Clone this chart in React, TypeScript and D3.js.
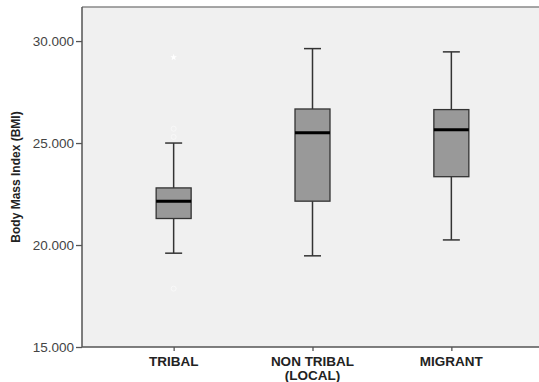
import * as d3 from 'd3';
import { useEffect, useRef } from 'react';

// groups and box stats
const groups = ['TRIBAL', 'NON TRIBAL|(LOCAL)', 'MIGRANT'];
const whiskerLow = [19.6, 19.47, 20.25];
const q1 = [21.3, 22.15, 23.35];
const median = [22.14, 25.5, 25.65];
const q3 = [22.8, 26.67, 26.64];
const whiskerHigh = [25.0, 29.63, 29.47];
// faint outliers (group index, value)
const circleOutliers = [
  [0, 25.7],
  [0, 25.3],
  [0, 17.86],
];
const starOutliers = [[0, 29.2]];
const yTicks = [15, 20, 25, 30];

const width = 539;
const height = 382;
const left = 82;
const top = 7;
const bottom = 347;
const right = 543;

const App = () => {
  const gy = useRef<SVGGElement>(null);
  const gx = useRef<SVGGElement>(null);

  const yScale = d3.scaleLinear().domain([15, 31.67]).range([bottom, top]);
  const xScale = d3
    .scalePoint<string>()
    .domain(groups)
    .range([left, right])
    .padding(0.66);

  useEffect(() => {
    const ya = d3
      .select(gy.current)
      .call(
        d3
          .axisLeft(yScale)
          .tickValues(yTicks)
          .tickFormat(d3.format('.3f'))
          .tickSize(6)
          .tickPadding(2)
      );
    ya.select('.domain').remove();
    ya.selectAll('line').attr('stroke', '#555').attr('stroke-width', 1.3);
    ya.selectAll('text')
      .attr('fill', '#444')
      .style('font-family', 'Liberation Sans, Arial, sans-serif')
      .style('font-size', '13.5px');

    const xa = d3
      .select(gx.current)
      .call(d3.axisBottom(xScale).tickSize(4).tickFormat(() => ''));
    xa.select('.domain').remove();
    xa.selectAll('line').attr('stroke', '#555').attr('stroke-width', 1.3);
  }, [yScale, xScale]);

  const boxW = 35;
  const capW = 17;

  return (
    <svg
      width={width}
      height={height}
      style={{ position: 'absolute', left: 0, top: 0, background: '#fff' }}
    >
      <rect x={left} y={top} width={right - left} height={bottom - top} fill='#f0f0f0' />
      <line x1={left} x2={right} y1={top} y2={top} stroke='#888' strokeWidth={1.3} />

      {groups.map((g, i) => {
        const cx = xScale(g)!;
        return (
          <g key={g}>
            <line x1={cx} x2={cx} y1={yScale(whiskerHigh[i])} y2={yScale(q3[i])} stroke='#333' strokeWidth={1.5} />
            <line x1={cx} x2={cx} y1={yScale(q1[i])} y2={yScale(whiskerLow[i])} stroke='#333' strokeWidth={1.5} />
            <line x1={cx - capW / 2} x2={cx + capW / 2} y1={yScale(whiskerHigh[i])} y2={yScale(whiskerHigh[i])} stroke='#333' strokeWidth={1.5} />
            <line x1={cx - capW / 2} x2={cx + capW / 2} y1={yScale(whiskerLow[i])} y2={yScale(whiskerLow[i])} stroke='#333' strokeWidth={1.5} />
            <rect
              x={cx - boxW / 2}
              y={yScale(q3[i])}
              width={boxW}
              height={yScale(q1[i]) - yScale(q3[i])}
              fill='#999'
              stroke='#333'
              strokeWidth={1.3}
            />
            <line x1={cx - boxW / 2} x2={cx + boxW / 2} y1={yScale(median[i])} y2={yScale(median[i])} stroke='#000' strokeWidth={3} />
          </g>
        );
      })}

      {circleOutliers.map(([gi, v], k) => (
        <circle key={k} cx={xScale(groups[gi])!} cy={yScale(v)} r={2.5} fill='none' stroke='#fff' strokeWidth={0.8} opacity={0.6} />
      ))}
      {starOutliers.map(([gi, v], k) => (
        <path
          key={k}
          d={d3.symbol(d3.symbolStar, 14)()!}
          transform={`translate(${xScale(groups[gi])},${yScale(v)})`}
          fill='#fff'
        />
      ))}

      <g ref={gy} transform={`translate(${left},0)`} />
      <g ref={gx} transform={`translate(0,${bottom})`} />
      <line x1={left} x2={left} y1={top} y2={bottom} stroke='#555' strokeWidth={1.5} />
      <line x1={left} x2={right} y1={bottom} y2={bottom} stroke='#555' strokeWidth={1.5} />

      {groups.map((g) => (
        <text
          key={g}
          x={xScale(g)}
          y={366}
          textAnchor='middle'
          fontFamily='Liberation Sans, Arial, sans-serif'
          fontWeight='bold'
          fontSize={13.5}
          fill='#222'
        >
          {g.split('|').map((line, j) => (
            <tspan key={j} x={xScale(g)} dy={j === 0 ? 0 : 14}>
              {line}
            </tspan>
          ))}
        </text>
      ))}

      <text
        transform={`translate(20,${(top + bottom) / 2}) rotate(-90)`}
        textAnchor='middle'
        fontFamily='Liberation Sans, Arial, sans-serif'
        fontWeight='bold'
        fontSize={12}
        fill='#222'
      >
        Body Mass Index (BMI)
      </text>
    </svg>
  );
};

export default App;
